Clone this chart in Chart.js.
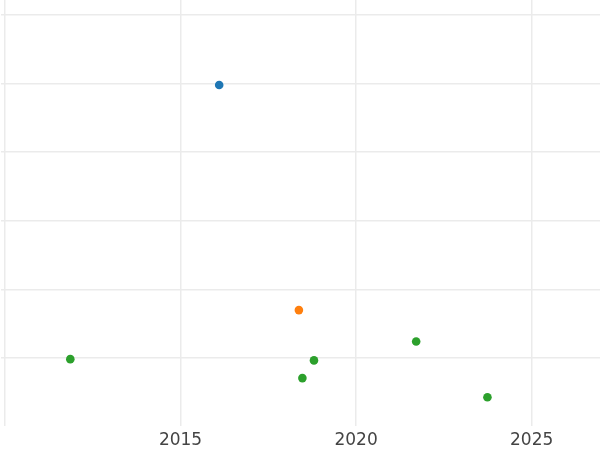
<!DOCTYPE html>
<html>
<head>
<meta charset="utf-8">
<script src="https://cdn.jsdelivr.net/npm/chart.js@4"></script>
<style>
html,body{margin:0;padding:0;background:#fff;}
#wrap{width:600px;height:450px;}
</style>
</head>
<body>
<div id="wrap"><canvas id="c" width="600" height="450"></canvas></div>
<script>
// Data
const blueX = [2016.10];
const blueY = [4.98];
const orangeX = [2018.37];
const orangeY = [1.70];
const greenX = [2011.86, 2018.80, 2018.47, 2021.71, 2023.74];
const greenY = [0.985, 0.967, 0.709, 1.243, 0.429];
const xTicks = [2010, 2015, 2020, 2025];
const xTickLabels = ['', '2015', '2020', '2025'];
const yTicks = [1, 2, 3, 4, 5, 6];

function pts(xs, ys) { return xs.map((x, i) => ({x: x, y: ys[i]})); }

new Chart(document.getElementById('c'), {
  type: 'scatter',
  data: {
    datasets: [
      {data: pts(blueX, blueY), backgroundColor: '#1f77b4', borderWidth: 0, pointRadius: 4.3},
      {data: pts(orangeX, orangeY), backgroundColor: '#ff7f0e', borderWidth: 0, pointRadius: 4.3},
      {data: pts(greenX, greenY), backgroundColor: '#2ca02c', borderWidth: 0, pointRadius: 4.3}
    ]
  },
  options: {
    responsive: false,
    animation: false,
    layout: {padding: {left: 0, right: 0, top: 0, bottom: -6}, autoPadding: false},
    plugins: {legend: {display: false}, tooltip: {enabled: false}},
    scales: {
      x: {
        type: 'linear',
        min: 2009.872,
        max: 2026.946,
        afterBuildTicks: (s) => { s.ticks = xTicks.map(v => ({value: v})); },
        ticks: {
          callback: (v) => { const i = xTicks.indexOf(v); return i >= 0 ? xTickLabels[i] : ''; },
          font: {family: 'DejaVu Sans', size: 17},
          color: '#444444',
          padding: 5,
          maxRotation: 0,
          autoSkip: false
        },
        grid: {color: '#ebebeb', lineWidth: 1.5, drawTicks: false},
        border: {display: false}
      },
      y: {
        type: 'linear',
        min: 0.017,
        max: 6.218,
        afterBuildTicks: (s) => { s.ticks = yTicks.map(v => ({value: v})); },
        ticks: {display: false},
        grid: {color: '#ebebeb', lineWidth: 1.5, drawTicks: false},
        border: {display: false}
      }
    }
  }
});
</script>
</body>
</html>
